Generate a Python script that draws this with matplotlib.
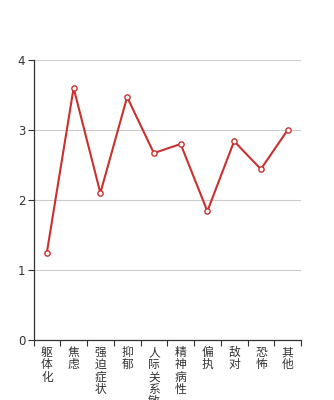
import matplotlib
matplotlib.use("Agg")
import matplotlib.pyplot as plt
import matplotlib.transforms as mtransforms

plt.rcParams['font.family'] = ['Noto Sans CJK SC', 'DejaVu Sans']

# ---- data ----
categories = ['躯体化', '焦虑', '强迫症状', '抑郁', '人际关系敏感',
              '精神病性', '偏执', '敌对', '恐怖', '其他']
scores = [1.25, 3.60, 2.10, 3.47, 2.67, 2.80, 1.84, 2.84, 2.44, 3.00]
y_ticks = [0, 1, 2, 3, 4]

fig = plt.figure(figsize=(3.34, 4.0), dpi=100)
ax = fig.add_axes([33.5 / 334, 60 / 400, (301 - 33.5) / 334, 280 / 400])

x = list(range(len(categories)))
ax.plot(x, scores, color='#c8312f', linewidth=1.5, marker='o',
        markersize=3.8, markerfacecolor='white', markeredgecolor='#c8312f',
        markeredgewidth=1.0, zorder=3, clip_on=False)

ax.set_xlim(-0.5, len(categories) - 0.5)
ax.set_ylim(0, 4)
ax.set_yticks(y_ticks)
ax.set_yticklabels([str(t) for t in y_ticks], fontsize=8.5, color='#333333',
                   family=['DejaVu Sans'])
ax.yaxis.grid(True, color='#cccccc', linewidth=0.8)
ax.set_axisbelow(True)

# category boundaries as ticks on the x axis
ax.set_xticks([i - 0.5 for i in range(len(categories) + 1)])
ax.set_xticklabels([])
ax.tick_params(axis='x', length=4, width=0.8, color='#333333', direction='out')
ax.tick_params(axis='y', length=4, width=0.8, color='#333333', direction='out', pad=2)

for s in ['top', 'right']:
    ax.spines[s].set_visible(False)
for s in ['left', 'bottom']:
    ax.spines[s].set_color('#333333')
    ax.spines[s].set_linewidth(0.9)

# vertical stacked labels
trans = mtransforms.blended_transform_factory(ax.transData, ax.transAxes)
for i, name in enumerate(categories):
    ax.text(i, -6 / 280, '\n'.join(name), transform=trans, ha='center', va='top',
            fontsize=8.5, color='#333333', linespacing=0.93, clip_on=False)

fig.savefig('out.png', dpi=100)
